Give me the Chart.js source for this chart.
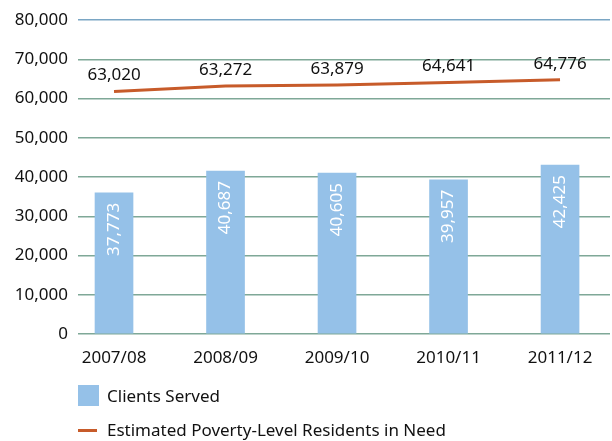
<!DOCTYPE html>
<html>
<head>
<meta charset="utf-8">
<script src="https://cdn.jsdelivr.net/npm/chart.js@4/dist/chart.umd.min.js"></script>
<style>
  html, body { margin: 0; padding: 0; background: #fff; }
  #wrap { position: relative; width: 612px; height: 441px; font-family: "Noto Sans", sans-serif; }
  .key { position: absolute; left: 78px; font-size: 17px; color: #111; line-height: 20px; }
  .key span.box { position: absolute; left: 0; }
  .key span.txt { position: absolute; left: 29px; top: 0; white-space: nowrap; }
</style>
</head>
<body>
<div id="wrap">
  <canvas id="myChart" width="612" height="441"></canvas>
  <div class="key" style="top:386px">
    <span class="box" style="top:-1px;width:21px;height:21px;background:#95c1e8"></span>
    <span class="txt">Clients Served</span>
  </div>
  <div class="key" style="top:420px">
    <span class="box" style="top:9px;width:19px;height:3px;background:#c75b2a"></span>
    <span class="txt">Estimated Poverty-Level Residents in Need</span>
  </div>
</div>
<script>
// fiscal years
var years = ["2007/08", "2008/09", "2009/10", "2010/11", "2011/12"];
// bar heights as drawn, and the numbers printed on them
var clientsServed = [36000, 41550, 41050, 39300, 43050];
var clientsLabels = ["37,773", "40,687", "40,605", "39,957", "42,425"];
// line heights as drawn, and the numbers printed above
var residentsInNeed = [61800, 63200, 63500, 64100, 64800];
var residentsLabels = ["63,020", "63,272", "63,879", "64,641", "64,776"];
var yTicks = [0, 10000, 20000, 30000, 40000, 50000, 60000, 70000, 80000];

var font = "Noto Sans";

var valueLabels = {
    id: "valueLabels",
    afterDatasetsDraw: function(chart){
        var ctx = chart.ctx;
        ctx.save();
        ctx.font = "17px '" + font + "'";
        chart.getDatasetMeta(0).data.forEach(function(bar, i){
            ctx.save();
            ctx.translate(bar.x, bar.y + 10);
            ctx.rotate(-Math.PI / 2);
            ctx.fillStyle = "#ffffff";
            ctx.textAlign = "right";
            ctx.textBaseline = "middle";
            ctx.fillText(clientsLabels[i], 0, 0);
            ctx.restore();
        });
        chart.getDatasetMeta(1).data.forEach(function(pt, i){
            ctx.fillStyle = "#111111";
            ctx.textAlign = "center";
            ctx.textBaseline = "middle";
            ctx.fillText(residentsLabels[i], pt.x, pt.y - 16);
        });
        ctx.restore();
    }
};

var ctx = document.getElementById("myChart").getContext("2d");
var chart = new Chart(ctx, {
    data: {
        datasets: [{
            type: "bar",
            label: "Clients Served",
            data: clientsServed.map(function(v, i){ return {x: i, y: v}; }),
            backgroundColor: "#95c1e8",
            barThickness: 38,
            order: 1
        },{
            type: "line",
            label: "Estimated Poverty-Level Residents in Need",
            data: residentsInNeed.map(function(v, i){ return {x: i, y: v}; }),
            borderColor: "#c75b2a",
            borderWidth: 3,
            pointRadius: 0,
            tension: 0,
            order: 0
        }]
    },
    options: {
        responsive: false,
        animation: false,
        layout: { padding: { left: 0, right: 2, top: 18, bottom: 77 } },
        plugins: {
            legend: { display: false },
            tooltip: { enabled: false }
        },
        scales: {
            x: {
                type: "linear",
                min: -0.323,
                max: 4.448,
                offset: false,
                grid: { display: false },
                border: { display: false },
                afterFit: function(scale){ scale.height = 30; },
                afterBuildTicks: function(scale){
                    scale.ticks = years.map(function(y, i){ return {value: i}; });
                },
                ticks: {
                    autoSkip: false,
                    maxRotation: 0,
                    padding: 6,
                    color: "#111",
                    font: { family: font, size: 17 },
                    callback: function(v){ return years[v]; }
                }
            },
            y: {
                min: 0,
                max: 80000,
                afterFit: function(scale){ scale.width = 78; },
                afterBuildTicks: function(scale){
                    scale.ticks = yTicks.map(function(v){ return {value: v}; });
                },
                border: { display: false },
                grid: {
                    drawTicks: false,
                    lineWidth: 1.6,
                    color: function(c){
                        return c.tick && c.tick.value === 80000 ? "#7aa6c4" : "#7fa897";
                    }
                },
                ticks: {
                    padding: 10,
                    color: "#111",
                    font: { family: font, size: 17 },
                    callback: function(v){ return v.toLocaleString("en-US"); }
                }
            }
        }
    },
    plugins: [valueLabels]
});
</script>
</body>
</html>
